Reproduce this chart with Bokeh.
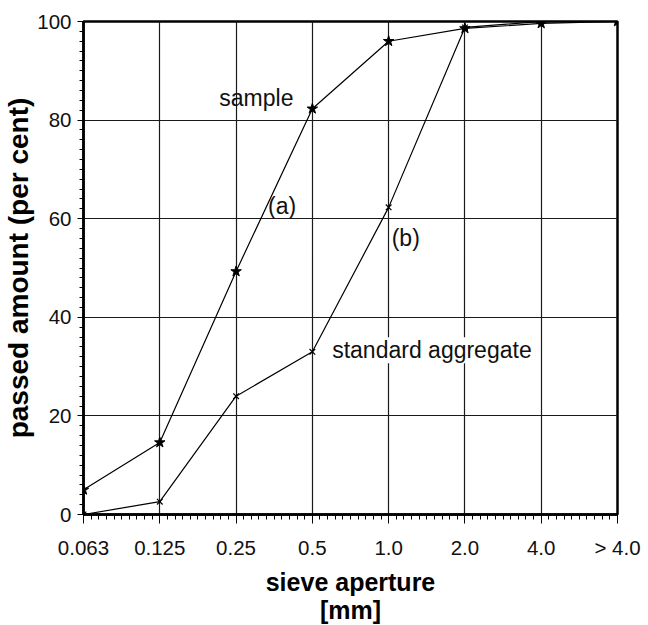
from bokeh.plotting import figure
from bokeh.models import FixedTicker, Label, Range1d
from bokeh.embed import file_html
from bokeh.resources import INLINE

sieve_labels = ["0.063", "0.125", "0.25", "0.5", "1.0", "2.0", "4.0", "> 4.0"]
positions = list(range(len(sieve_labels)))
sample_passed = [5.0, 14.6, 49.3, 82.3, 96.0, 98.6, 99.6, 100.0]
standard_passed = [0.0, 2.6, 24.0, 33.0, 62.3, 98.8, 100.0, 100.0]
y_ticks = [0, 20, 40, 60, 80, 100]

FONT = "Liberation Sans"

p = figure(frame_width=534, frame_height=493,
           output_backend="svg", toolbar_location=None,
           x_range=Range1d(0, 7), y_range=Range1d(0, 100),
           min_border_left=74, min_border_top=21, min_border_right=26, min_border_bottom=80)
p.background_fill_color = "white"
p.border_fill_color = "white"
p.outline_line_color = "black"
p.outline_line_width = 2.5

xt = FixedTicker(ticks=positions, minor_ticks=[i / 10 for i in range(0, 71)])
yt = FixedTicker(ticks=y_ticks, minor_ticks=list(range(0, 101, 2)))
p.xaxis.ticker = xt
p.yaxis.ticker = yt
p.xaxis.major_label_overrides = {i: s for i, s in zip(positions, sieve_labels)}

for ax in (p.xaxis[0], p.yaxis[0]):
    ax.axis_line_color = "black"
    ax.axis_line_width = 2.5
    ax.major_tick_line_color = "black"
    ax.minor_tick_line_color = "black"
    ax.major_tick_in = 0
    ax.minor_tick_in = 0
    ax.major_label_text_font = FONT
    ax.major_label_text_font_size = "20.5px"
    ax.major_label_text_color = "#111111"
    ax.axis_label_text_font = FONT
    ax.axis_label_text_font_style = "bold"
    ax.axis_label_text_color = "black"

p.xaxis.major_tick_out = 9
p.xaxis.minor_tick_out = 5
p.xaxis.major_label_standoff = 12
p.xaxis.axis_label = "sieve aperture\n[mm]"
p.xaxis.axis_label_text_font_size = "25px"
p.xaxis.axis_label_text_line_height = 1.0
p.xaxis.axis_label_standoff = 6

p.yaxis.major_tick_out = 6
p.yaxis.minor_tick_out = 4
p.yaxis.major_label_standoff = 6
p.yaxis.axis_label = "passed amount (per cent)"
p.yaxis.axis_label_text_font_size = "28px"
p.yaxis.axis_label_standoff = 0

p.xgrid.ticker = xt
p.ygrid.ticker = yt
p.grid.grid_line_color = "#1a1a1a"
p.grid.grid_line_width = 1.2
p.grid.grid_line_alpha = 1.0

p.line(positions, sample_passed, line_color="black", line_width=1.2)
p.scatter(positions, sample_passed, marker="star", size=11, fill_color="black", line_color="black")
p.line(positions, standard_passed, line_color="black", line_width=1.2)
p.scatter(positions, standard_passed, marker="x", size=8, line_color="black", line_width=1.2)

annots = [("sample", 1.78, 84.5), ("(a)", 2.42, 62.5), ("(b)", 4.04, 56.0),
          ("standard aggregate", 3.26, 33.3)]
for txt, x, y in annots:
    p.add_layout(Label(x=x, y=y, text=txt, text_font=FONT, text_font_size="23px",
                       text_baseline="middle", text_align="left", text_color="#111111",
                       background_fill_color="white" if txt == "standard aggregate" else None))

open("out.html", "w").write(file_html(p, INLINE))
